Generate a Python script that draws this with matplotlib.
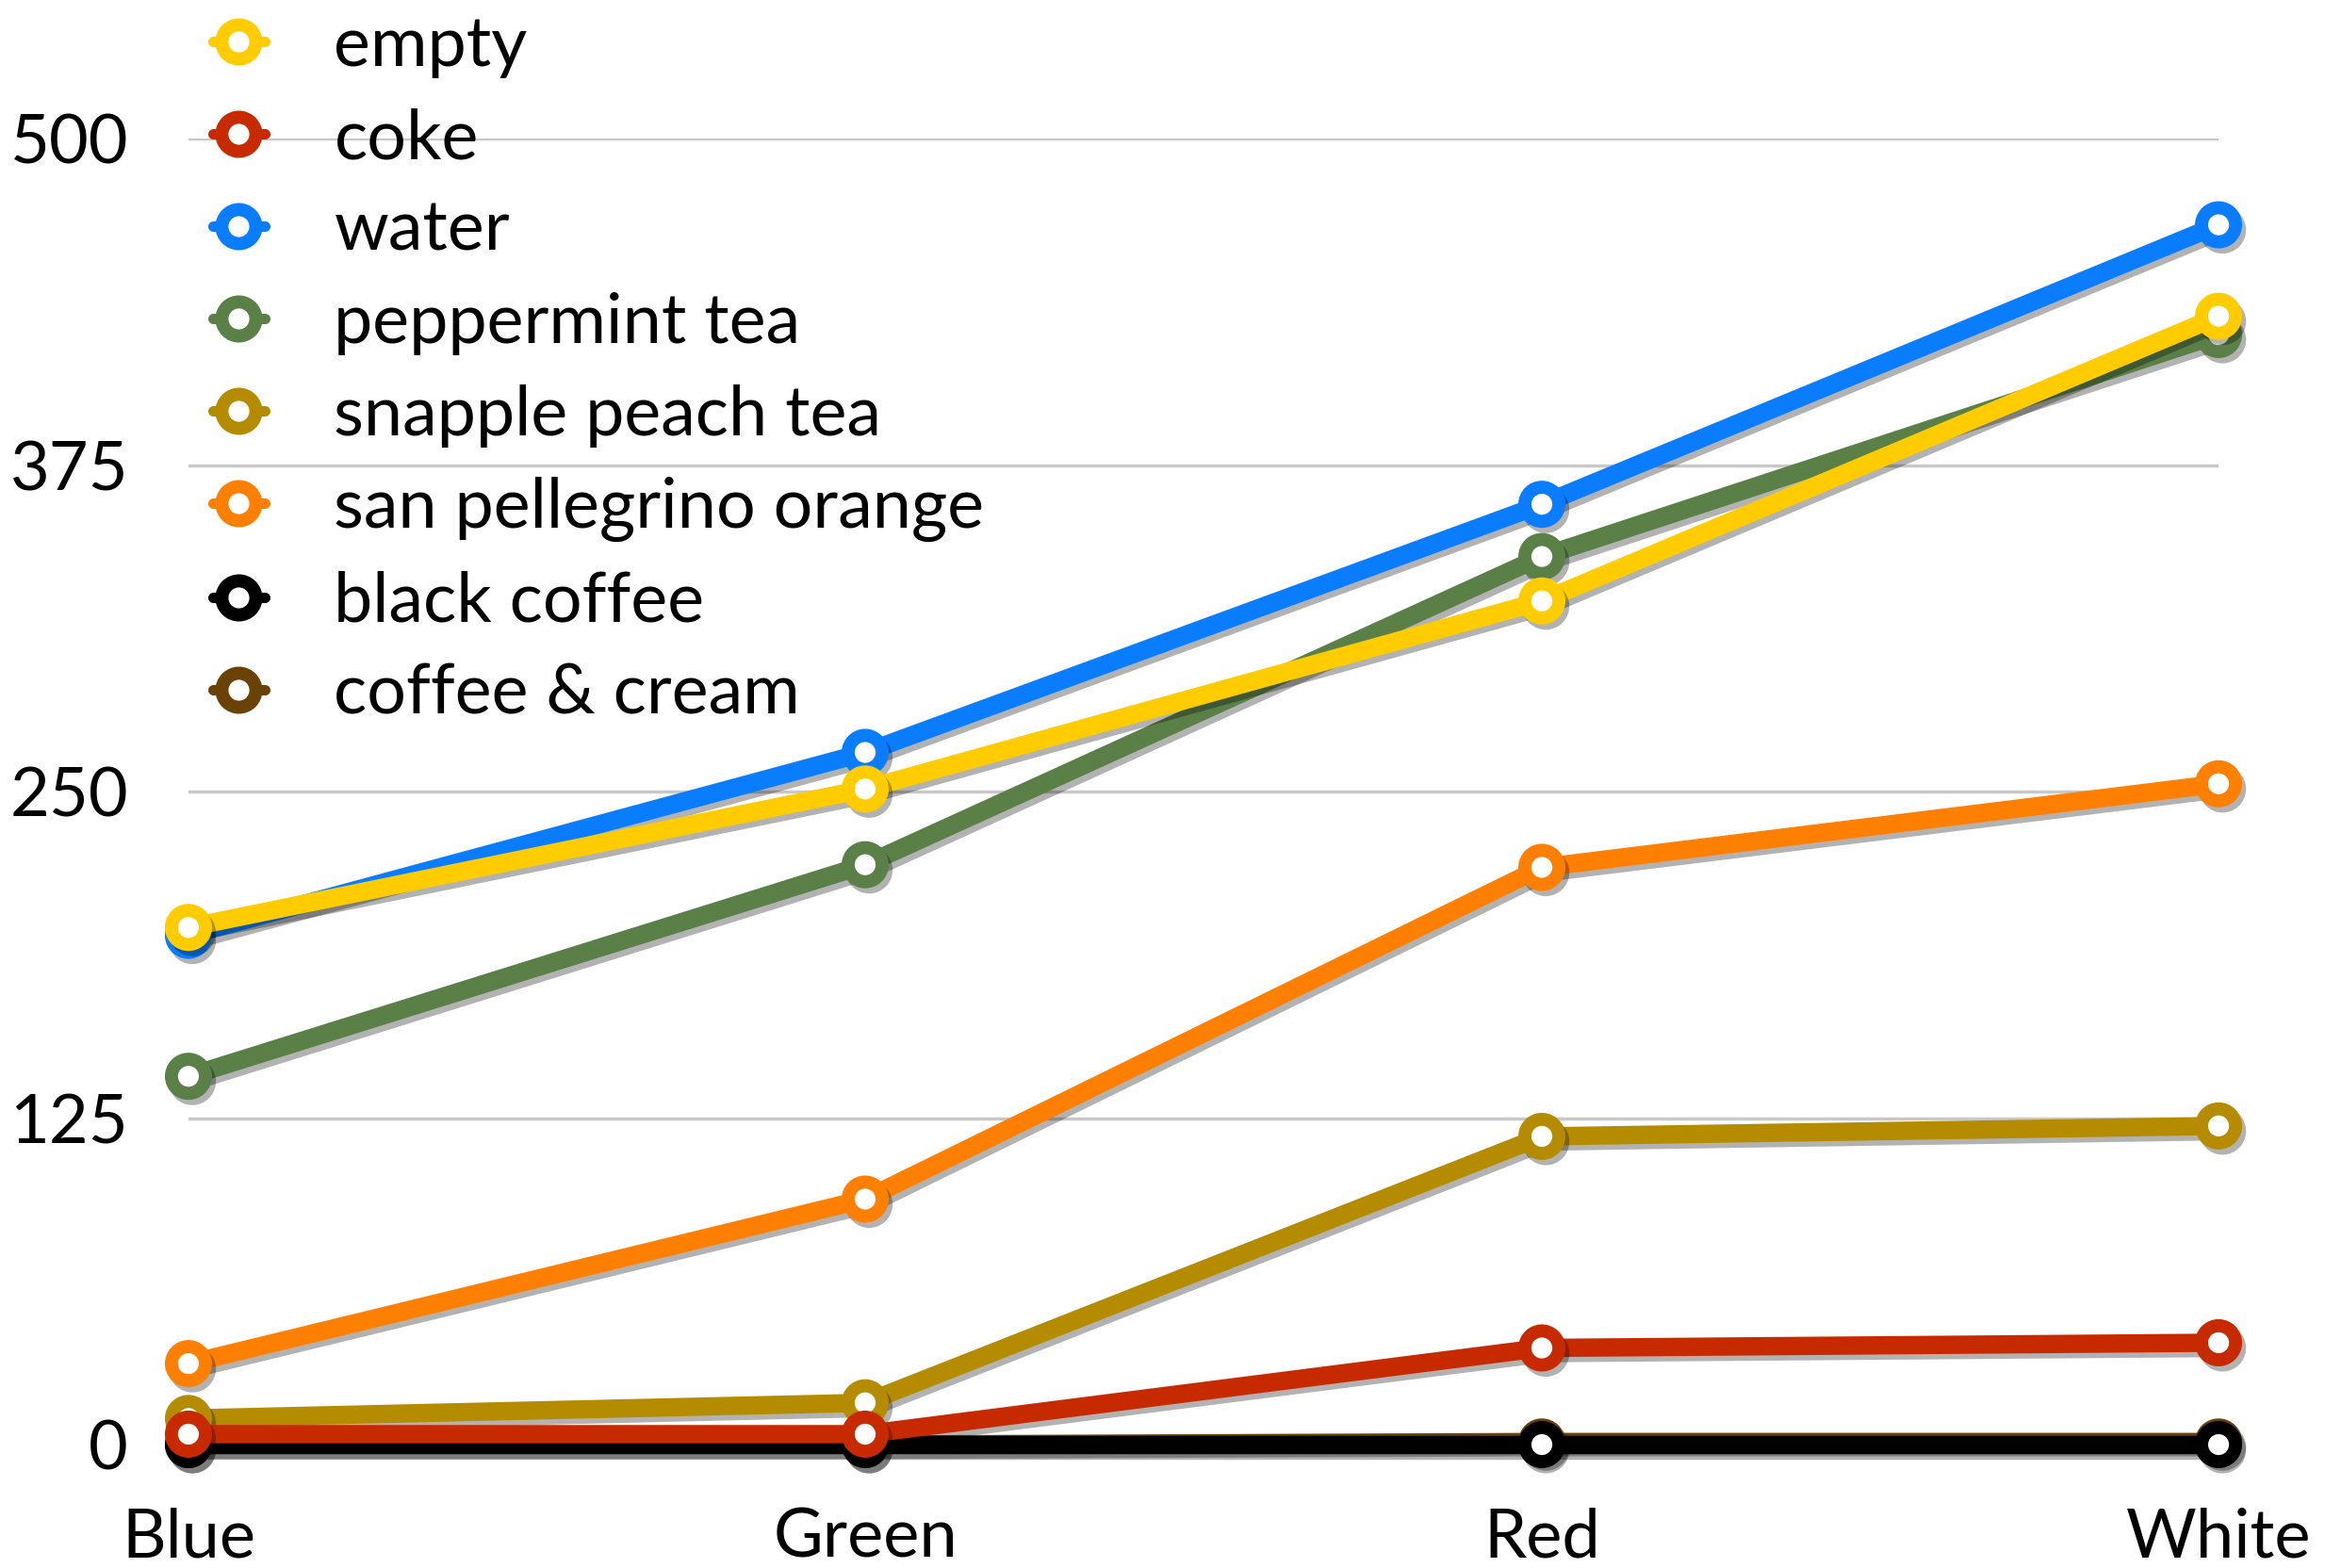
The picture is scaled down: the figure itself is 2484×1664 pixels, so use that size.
import numpy as np
import matplotlib
matplotlib.use('Agg')
import matplotlib.pyplot as plt
import matplotlib.patheffects as pe

plt.rcParams['font.family'] = ['Lato', 'DejaVu Sans']

categories = ['Blue', 'Green', 'Red', 'White']

empty = [198, 251, 323, 432]
coke = [4, 4, 37, 39]
water = [195, 265, 360, 467]
peppermint_tea = [141, 222, 340, 425]
snapple_peach_tea = [10, 16, 118, 122]
san_pellegrino_orange = [31, 94, 221, 253]
black_coffee = [0, 0, 0, 0]
coffee_cream = [0, 0, 1, 1]

names = ['empty', 'coke', 'water', 'peppermint tea', 'snapple peach tea',
         'san pellegrino orange', 'black coffee', 'coffee & cream']
series = [empty, coke, water, peppermint_tea, snapple_peach_tea,
          san_pellegrino_orange, black_coffee, coffee_cream]
colors = ['#ffcc00', '#c82a00', '#0a7dff', '#5a8048', '#b58c00',
          '#ff7f00', '#000000', '#6b4206']

fig = plt.figure(figsize=(24.84, 16.64), dpi=100)
ax = fig.add_axes([0.0805, 0.0787, 0.8672, 0.8329])

x = np.arange(len(categories))
shadow = [pe.SimpleLineShadow(offset=(3, -4), shadow_color='black', alpha=0.3),
          pe.Normal()]

# draw last legend entry first so "empty" ends up on top
for i in reversed(range(len(series))):
    ax.plot(x, series[i], color=colors[i], lw=14, marker='o', ms=26,
            mfc='white', mec=colors[i], mew=10, clip_on=False,
            solid_capstyle='round', label=names[i], zorder=3 + (len(series) - i),
            path_effects=shadow)

ax.set_xlim(0, 3)
ax.set_ylim(0, 500)
ax.set_yticks([0, 125, 250, 375, 500])
ax.set_xticks(x)
ax.set_xticklabels(categories)
ax.grid(axis='y', color='#c8c8c8', lw=2.5)
ax.set_axisbelow(True)
for s in ax.spines.values():
    s.set_visible(False)
ax.tick_params(axis='both', length=0, labelsize=52)
ax.tick_params(axis='y', pad=46)
ax.tick_params(axis='x', pad=48)

handles, labels = ax.get_legend_handles_labels()
handles, labels = handles[::-1], labels[::-1]
leg = fig.legend(handles, labels, loc='upper left', bbox_to_anchor=(0.079, 1.008),
                 frameon=False, fontsize=53, handlelength=0.75, handletextpad=1.0,
                 labelspacing=0.42, borderaxespad=0, markerscale=1.0)
for h in leg.legend_handles:
    h.set_path_effects([])
    h.set_linewidth(8)

fig.savefig('out.png', dpi=100)
